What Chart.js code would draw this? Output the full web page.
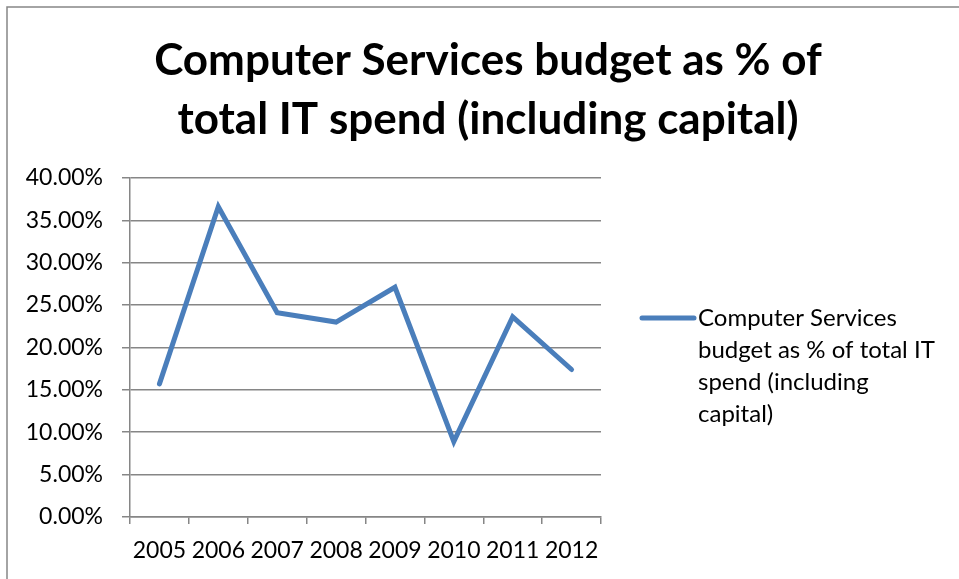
<!DOCTYPE html>
<html>
<head>
<meta charset="utf-8">
<script src="https://cdn.jsdelivr.net/npm/chart.js@4.4.1/dist/chart.umd.min.js"></script>
<style>
  html, body { margin: 0; padding: 0; background: #fff; }
  #wrap { position: relative; width: 959px; height: 579px; }
</style>
</head>
<body>
<div id="wrap"><canvas id="grafica" width="959" height="579"></canvas></div>
<script>
// datos
const years = ['2005', '2006', '2007', '2008', '2009', '2010', '2011', '2012'];
const budgetShare = [0.157, 0.366, 0.241, 0.230, 0.271, 0.089, 0.236, 0.174];
const titleLines = ['Computer Services budget as % of', 'total IT spend (including capital)'];
const legendLines = ['Computer Services', 'budget as % of total IT', 'spend (including', 'capital)'];
const yTicks = [0, 0.05, 0.10, 0.15, 0.20, 0.25, 0.30, 0.35, 0.40];

const azul = '#4a7ebb';
const gris = '#868686';
const fuente = 'Lato, "Open Sans", sans-serif';

// marco exterior y leyenda con texto partido en lineas
const marcoYLeyenda = {
  id: 'marcoYLeyenda',
  afterDraw(chart) {
    const c = chart.ctx;
    c.save();
    c.strokeStyle = gris;
    c.lineWidth = 1.5;
    c.beginPath();
    c.moveTo(7, 579);
    c.lineTo(7, 7);
    c.lineTo(959, 7);
    c.stroke();

    // leyenda
    c.strokeStyle = azul;
    c.lineWidth = 5;
    c.lineCap = 'round';
    c.beginPath();
    c.moveTo(642, 318);
    c.lineTo(694, 318);
    c.stroke();

    c.fillStyle = '#000';
    c.font = '24px ' + fuente;
    c.textBaseline = 'alphabetic';
    c.textAlign = 'left';
    legendLines.forEach((t, i) => c.fillText(t, 698, 326 + i * 32));
    c.restore();
  }
};

new Chart(document.getElementById('grafica'), {
  type: 'line',
  data: {
    labels: years,
    datasets: [{
      label: legendLines.join(' '),
      data: budgetShare,
      borderColor: azul,
      backgroundColor: azul,
      borderWidth: 5,
      pointRadius: 0,
      tension: 0,
      borderCapStyle: 'round',
      borderJoinStyle: 'miter'
    }]
  },
  options: {
    responsive: false,
    animation: false,
    layout: { padding: { left: 17, right: 0, top: 0, bottom: 0 } },
    plugins: {
      legend: { display: false },
      tooltip: { enabled: false },
      title: {
        display: true,
        text: titleLines,
        color: '#000',
        font: { family: fuente, size: 44, weight: 'bold', lineHeight: 1.34 },
        padding: { top: 31, bottom: 29 }
      }
    },
    scales: {
      x: {
        offset: true,
        grid: {
          display: true,
          drawOnChartArea: false,
          offset: true,
          color: gris,
          lineWidth: 1.5,
          tickLength: 7
        },
        border: { color: gris, width: 1.5 },
        ticks: {
          color: '#000',
          font: { family: fuente, size: 23 },
          padding: 13,
          maxRotation: 0,
          autoSkip: false
        },
        afterFit(scale) { scale.height = 62; }
      },
      y: {
        min: 0,
        max: 0.4,
        afterBuildTicks(scale) { scale.ticks = yTicks.map(v => ({ value: v })); },
        grid: {
          color: gris,
          lineWidth: 1.5,
          tickLength: 8
        },
        border: { color: gris, width: 1.5 },
        ticks: {
          color: '#000',
          font: { family: fuente, size: 23 },
          padding: 19,
          callback: v => (v * 100).toFixed(2) + '%'
        },
        afterFit(scale) { scale.width = 113; }
      },
      // eje vacio a la derecha: reserva el hueco de la leyenda
      hueco: {
        position: 'right',
        display: true,
        grid: { display: false },
        border: { display: false },
        ticks: { display: false },
        afterFit(scale) { scale.width = 358; }
      }
    }
  },
  plugins: [marcoYLeyenda]
});
</script>
</body>
</html>
